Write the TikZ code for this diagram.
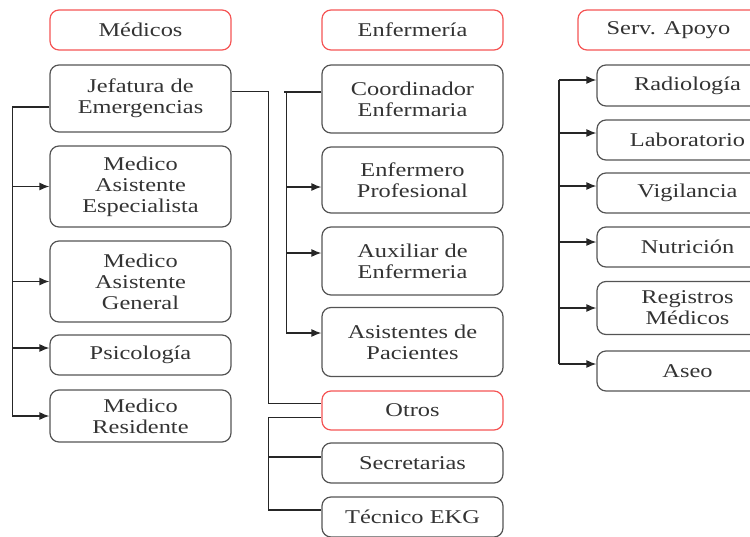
\documentclass[tikz,border=0pt]{standalone}
\usepackage{fontspec}
\setmainfont{Liberation Serif}[FakeStretch=1.25]
\usetikzlibrary{arrows.meta}
\definecolor{rouge}{rgb}{0.96 0.33 0.33}
\definecolor{gris}{rgb}{0.33 0.33 0.33}

\begin{document}
\begin{tikzpicture}[x=1pt,y=-1pt]
	% STYLES
	\tikzstyle{boite} = [draw=gris, line width=1.2pt, rounded corners=9pt, minimum width=181pt, inner sep=0pt, align=center, text=black!80, font=\fontsize{19.5}{21}\selectfont]
	\tikzstyle{titre} = [boite, draw=rouge, minimum height=40pt]
	\tikzstyle{lien} = [line width=1.3pt, draw=black!85]
	\tikzstyle{fleche} = [lien, -{Latex[length=10pt,width=8pt]}]

	\useasboundingbox (0,0) rectangle (750,536);

	% NOEUDS : MEDICOS
	\node[titre] at (140.5, 30) (hMed) {Médicos};
	\node[boite, minimum height=67pt] at (140.5, 98.5) (jefe) {Jefatura de\\Emergencias};
	\node[boite, minimum height=81pt] at (140.5, 186.5) (esp) {Medico\\Asistente\\Especialista};
	\node[boite, minimum height=81pt] at (140.5, 281.5) (gen) {Medico\\Asistente\\General};
	\node[boite, minimum height=40pt] at (140.5, 355) (psi) {Psicología};
	\node[boite, minimum height=52pt] at (140.5, 416) (res) {Medico\\Residente};

	% NOEUDS : ENFERMERIA
	\node[titre] at (412.5, 30) (hEnf) {Enfermería};
	\node[boite, minimum height=68pt] at (412.5, 99) (coord) {Coordinador\\Enfermaria};
	\node[boite, minimum height=66pt] at (412.5, 180) (prof) {Enfermero\\Profesional};
	\node[boite, minimum height=68pt] at (412.5, 261) (aux) {Auxiliar de\\Enfermeria};
	\node[boite, minimum height=69pt] at (412.5, 342) (asis) {Asistentes de\\Pacientes};
	\node[titre, minimum height=39pt] at (412.5, 410.5) (otros) {Otros};
	\node[boite, minimum height=40pt] at (412.5, 463) (sec) {Secretarias};
	\node[boite, minimum height=40pt] at (412.5, 517) (ekg) {Técnico EKG};

	% NOEUDS : SERV. APOYO
	\node[titre] at (668.5, 30) (hApo) {Serv. Apoyo};
	\node[boite, minimum height=41pt] at (687.5, 85.5) (rad) {Radiología};
	\node[boite, minimum height=40pt] at (687.5, 140) (lab) {Laboratorio};
	\node[boite, minimum height=40pt] at (687.5, 193) (vig) {Vigilancia};
	\node[boite, minimum height=40pt] at (687.5, 247) (nut) {Nutrición};
	\node[boite, minimum height=53pt] at (687.5, 308) (reg) {Registros\\Médicos};
	\node[boite, minimum height=40pt] at (687.5, 371) (aseo) {Aseo};

	% MEDICOS
	\path[lien] ([yshift=-8.5pt]jefe.west) -- ++(-37,0) coordinate (tMed) -- (tMed |- res.west);
	\foreach \n/\s in {esp/0, gen/0, psi/7, res/0} {
		\coordinate (\n-a) at ([yshift=\s pt]\n.west);
		\path[fleche] (tMed |- \n-a) -- (\n-a);
	}

	% JEFATURA -> OTROS
	\path[lien] ([yshift=7pt]jefe.east) -- ++(37,0) coordinate (tOtr) |- ([yshift=7pt]otros.west);
	\coordinate (ekg-a) at ([yshift=7pt]ekg.west);
	\coordinate (sec-a) at ([yshift=6pt]sec.west);
	\path[lien] ([yshift=-7pt]otros.west) -| (tOtr |- ekg-a) -- (ekg-a);
	\path[lien] (tOtr |- sec-a) -- (sec-a);

	% ENFERMERIA
	\foreach \n/\s in {prof/-7, aux/8, asis/9} {
		\coordinate (\n-a) at ([yshift=\s pt]\n.west);
	}
	\path[lien] ([yshift=7pt]coord.west) -- ++(-37,0) coordinate (tEnf);
	\path[lien] ([xshift=2pt]tEnf) -- ([xshift=2pt]tEnf |- asis-a);
	\foreach \n in {prof, aux, asis} {
		\path[fleche] ([xshift=2pt]tEnf |- \n-a) -- (\n-a);
	}

	% SERV. APOYO
	\coordinate (tApo) at (559, 0);
	\foreach \n/\s in {rad/5.5, lab/7, vig/7, nut/5, reg/0, aseo/7} {
		\coordinate (\n-a) at ([yshift=\s pt]\n.west);
		\path[fleche] (tApo |- \n-a) -- (\n-a);
	}
	\path[lien] (tApo |- rad-a) -- (tApo |- aseo-a);
\end{tikzpicture}
\end{document}
